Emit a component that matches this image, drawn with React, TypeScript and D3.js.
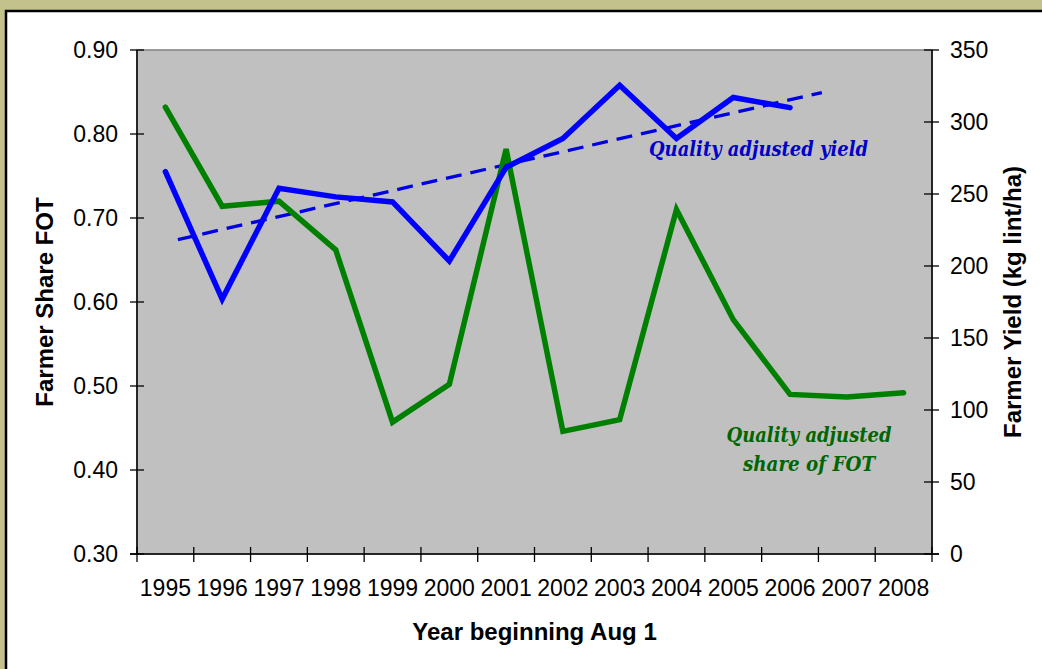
import React from "react";
import * as d3 from "d3";

const years = ["1995","1996","1997","1998","1999","2000","2001","2002","2003","2004","2005","2006","2007","2008"];
const shareFOT = [0.832,0.714,0.720,0.662,0.457,0.502,0.782,0.446,0.460,0.710,0.579,0.490,0.487,0.492];
const yieldYears = ["1995","1996","1997","1998","1999","2000","2001","2002","2003","2004","2005","2006"];
const yieldKg = [265.5,177,254,248,244.5,203.5,268.5,288.5,325.5,288.5,317,310];
const leftTicks = [0.3,0.4,0.5,0.6,0.7,0.8,0.9];
const rightTicks = [0,50,100,150,200,250,300,350];
const trendFrom = 0.22;
const trendForward = 0.56;

const W = 1042, H = 669;
const L = 137, R = 932, T = 50, B = 554;

export default function App() {
  const x = d3.scaleBand<string>().domain(years).range([L, R]).padding(0);
  const bw = x.bandwidth();
  const xc = (y: string) => (x(y) as number) + bw / 2;
  const xi = d3.scaleLinear().domain([-0.5, years.length - 0.5]).range([L, R]);
  const yL = d3.scaleLinear().domain([0.3, 0.9]).range([B, T]);
  const yR = d3.scaleLinear().domain([0, 350]).range([B, T]);

  const greenLine = d3.line<number>().x((_, i) => xc(years[i])).y(d => yL(d));
  const blueLine = d3.line<number>().x((_, i) => xc(yieldYears[i])).y(d => yR(d));

  const n = yieldKg.length;
  const mx = d3.mean(d3.range(n)) as number;
  const my = d3.mean(yieldKg) as number;
  const sxy = d3.sum(yieldKg.map((v, i) => (i - mx) * (v - my)));
  const sxx = d3.sum(d3.range(n).map(i => (i - mx) ** 2));
  const slope = sxy / sxx;
  const icpt = my - slope * mx;
  const t0 = trendFrom, t1 = n - 1 + trendForward;

  const tickFont = "Arial, 'Liberation Sans', sans-serif";
  const tfs = 23;

  return (
    <svg width={W} height={H} style={{ position: "absolute", left: 0, top: 0 }}>
      <rect x={0} y={0} width={W} height={H} fill="#C3C18C" />
      <rect x={6} y={11} width={W + 10} height={H + 10} fill="#FFFFFF" stroke="#000" strokeWidth={2.5} />
      <rect x={L} y={T} width={R - L} height={B - T} fill="#C0C0C0" stroke="#808080" strokeWidth={1.5} />

      <line x1={L} x2={L} y1={T} y2={B} stroke="#000" strokeWidth={1.5} />
      {leftTicks.map(t => (
        <g key={"l" + t}>
          <line x1={L - 7} x2={L + 7} y1={yL(t)} y2={yL(t)} stroke="#000" strokeWidth={1.3} />
          <text x={118} y={yL(t) + 8} textAnchor="end" fontFamily={tickFont} fontSize={tfs}>{t.toFixed(2)}</text>
        </g>
      ))}
      <line x1={R} x2={R} y1={T} y2={B} stroke="#000" strokeWidth={1.5} />
      {rightTicks.map(t => (
        <g key={"r" + t}>
          <line x1={R - 8} x2={R + 7} y1={yR(t)} y2={yR(t)} stroke="#000" strokeWidth={1.3} />
          <text x={950} y={yR(t) + 8} textAnchor="start" fontFamily={tickFont} fontSize={tfs}>{t}</text>
        </g>
      ))}
      <line x1={L - 7} x2={R + 7} y1={B} y2={B} stroke="#000" strokeWidth={1.5} />
      {d3.range(years.length + 1).map(i => (
        <line key={"b" + i} x1={L + i * bw} x2={L + i * bw} y1={B - 7} y2={B + 8} stroke="#000" strokeWidth={1.3} />
      ))}
      {years.map(y => (
        <text key={"y" + y} x={xc(y)} y={596} textAnchor="middle" fontFamily={tickFont} fontSize={tfs}>{y}</text>
      ))}

      <line x1={xi(t0)} y1={yR(icpt + slope * t0)} x2={xi(t1)} y2={yR(icpt + slope * t1)}
        stroke="#0000E0" strokeWidth={3.3} strokeDasharray="16 9" />
      <path d={greenLine(shareFOT) as string} fill="none" stroke="#008000" strokeWidth={5.5} strokeLinejoin="miter" strokeLinecap="round" />
      <path d={blueLine(yieldKg) as string} fill="none" stroke="#0000FF" strokeWidth={5.5} strokeLinejoin="miter" strokeLinecap="round" />

      <text x={758.5} y={156} textAnchor="middle" fontFamily="'DejaVu Serif', serif" fontWeight="bold" fontStyle="italic"
        fontSize={20} fill="#0000C8" textLength={219} lengthAdjust="spacingAndGlyphs">Quality adjusted yield</text>
      <text x={809} y={442} textAnchor="middle" fontFamily="'DejaVu Serif', serif" fontWeight="bold" fontStyle="italic"
        fontSize={20} fill="#006600" textLength={165} lengthAdjust="spacingAndGlyphs">Quality adjusted</text>
      <text x={809} y={471} textAnchor="middle" fontFamily="'DejaVu Serif', serif" fontWeight="bold" fontStyle="italic"
        fontSize={20} fill="#006600" textLength={132} lengthAdjust="spacingAndGlyphs">share of FOT</text>

      <text transform={`translate(53,${(T + B) / 2}) rotate(-90)`} textAnchor="middle" fontFamily={tickFont} fontWeight="bold" fontSize={24}>Farmer Share FOT</text>
      <text transform={`translate(1021,${(T + B) / 2}) rotate(-90)`} textAnchor="middle" fontFamily={tickFont} fontWeight="bold" fontSize={24}>Farmer Yield (kg lint/ha)</text>
      <text x={(L + R) / 2} y={640} textAnchor="middle" fontFamily={tickFont} fontWeight="bold" fontSize={24}>Year beginning Aug 1</text>
    </svg>
  );
}
